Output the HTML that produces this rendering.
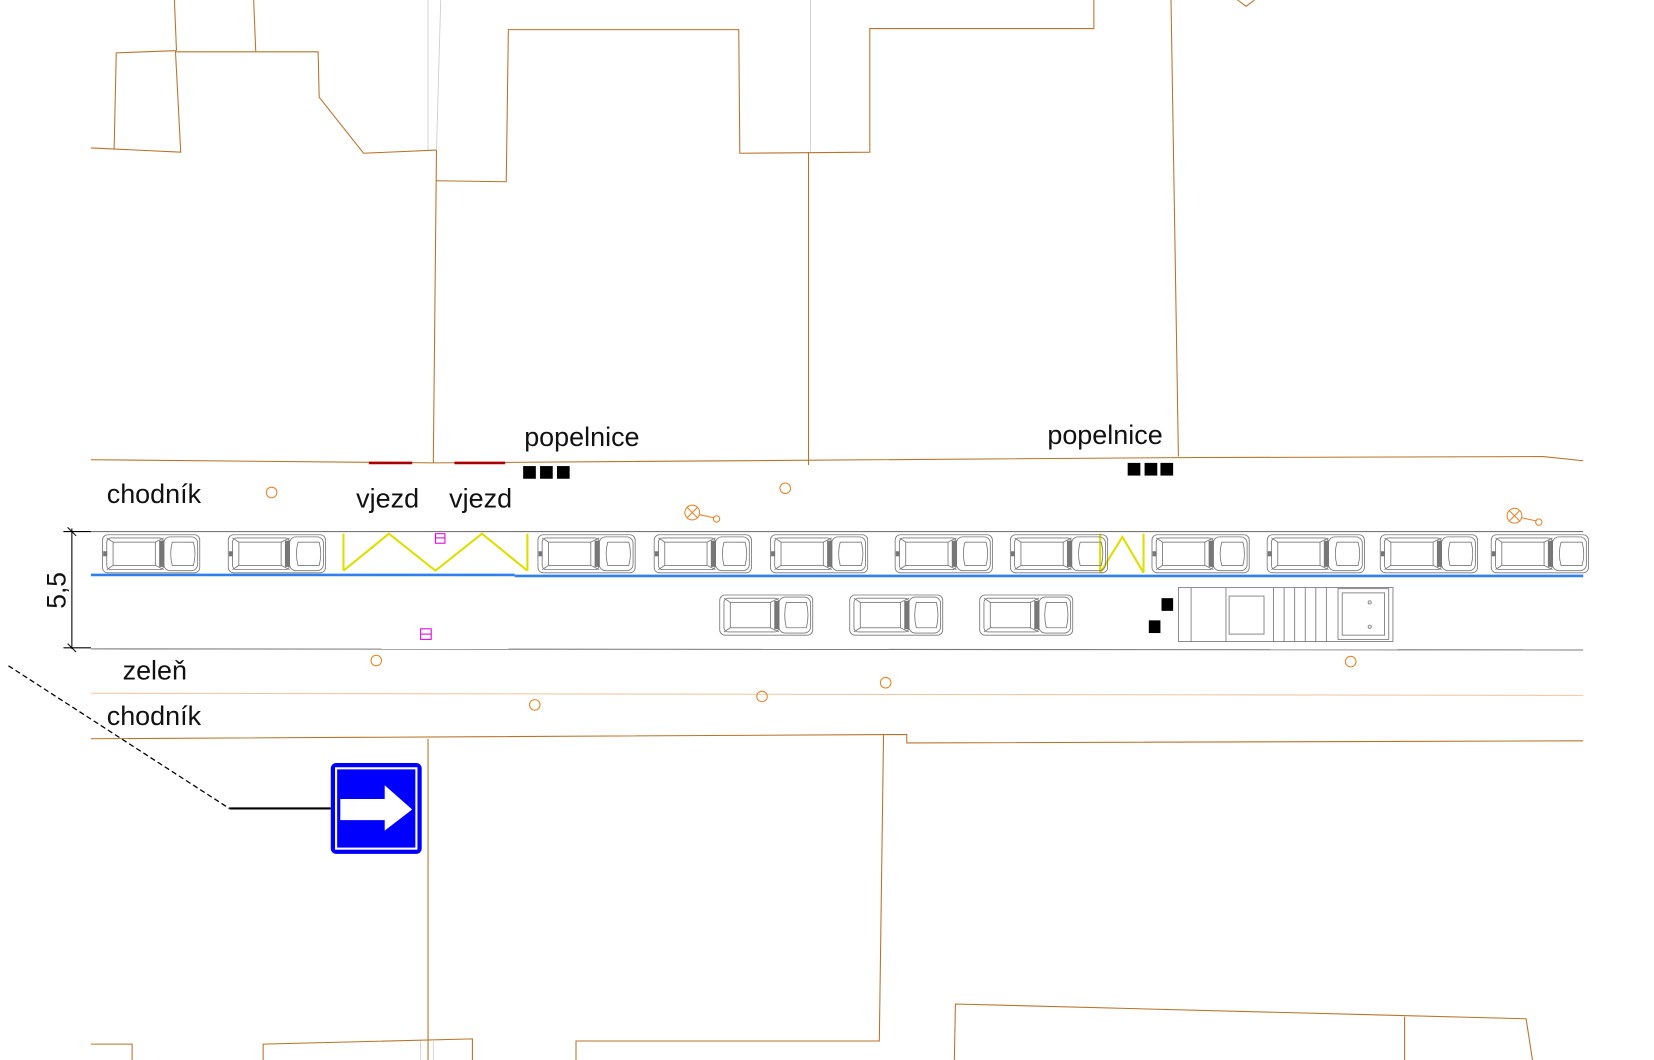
<!DOCTYPE html>
<html><head><meta charset="utf-8"><style>
html,body{margin:0;padding:0;background:#fff;width:1654px;height:1060px;overflow:hidden}
svg{display:block}
text{font-family:"Liberation Sans",sans-serif;fill:#111}
</style></head><body>
<svg width="1654" height="1060" viewBox="0 0 1565 1003" preserveAspectRatio="none" xmlns="http://www.w3.org/2000/svg">
<defs>
<g id="car" fill="none" stroke="#777" stroke-width="0.8">
<rect x="0" y="0" width="92" height="36" rx="5"/>
<rect x="4" y="3" width="54" height="30" rx="4"/>
<rect x="10" y="7" width="40" height="22"/>
<path d="M4 3 L10 7 M4 33 L10 29 M58 3 L50 7 M58 33 L50 29"/>
<rect x="58" y="2" width="32" height="32" rx="6"/>
<path d="M66 7 L86 7 Q89 18 86 29 L66 29 Q63 18 66 7"/>
<rect x="54" y="6" width="4" height="24" fill="#777"/>
<rect x="1" y="16" width="3" height="4" fill="#777"/>
</g>
<g id="car2" fill="none" stroke="#777" stroke-width="0.8">
<rect x="0" y="0" width="88" height="38" rx="5"/>
<rect x="4" y="3" width="52" height="32" rx="4"/>
<rect x="10" y="7" width="38" height="24"/>
<path d="M4 3 L10 7 M4 35 L10 31 M56 3 L48 7 M56 35 L48 31"/>
<rect x="56" y="2" width="30" height="34" rx="6"/>
<path d="M63 7 L82 7 Q85 19 82 31 L63 31 Q60 19 63 7"/>
<rect x="52" y="6" width="4" height="26" fill="#777"/>
</g>
</defs>
<g fill="none" stroke="#b8732a" stroke-width="1">
<polyline points="86,140 108,141 110,50 166,48 171,144 86,140"/>
<line x1="165" y1="0" x2="167" y2="48"/>
<line x1="240" y1="0" x2="242" y2="49"/>
<polyline points="166,49 301,49 302,92 344,145 413,142"/>
<line x1="413" y1="142" x2="410" y2="438"/>
<polyline points="413,171 479,172 481,28 699,28 700,145 823,144 823,27 1035,27 1035,0"/>
<line x1="765" y1="144" x2="765" y2="440"/>
<line x1="1108" y1="0" x2="1115" y2="432"/>
<polyline points="1171,0 1179,6 1187,0"/>
<polyline points="86,435 410,438 1115,433 1460,432 1498,436"/>
<polyline points="86,699 858,695 858,703 1498,701"/>
<line x1="405" y1="699" x2="405" y2="1003"/>
<polyline points="836,695 832,985 545,985 545,1003"/>
<polyline points="86,988 125,988 125,1003"/>
<polyline points="249,1003 249,988 447,983 447,1003"/>
<polyline points="903,1003 904,950 1444,964 1450,1003"/>
<line x1="1329" y1="962" x2="1329" y2="1003"/>
</g>
<g stroke="#ccc" stroke-width="0.8">
<line x1="405" y1="0" x2="405" y2="142"/>
<line x1="417" y1="0" x2="413" y2="142"/>
<line x1="767" y1="0" x2="767" y2="144"/>
<line x1="398" y1="985" x2="398" y2="1003"/>
<line x1="410" y1="985" x2="410" y2="1003"/>
</g>
<line x1="86" y1="656" x2="1498" y2="658" stroke="#edc7a6" stroke-width="1"/>
<line x1="86" y1="503" x2="1498" y2="503" stroke="#777" stroke-width="1"/>
<line x1="86" y1="614" x2="1498" y2="615" stroke="#777" stroke-width="1"/>
<line x1="86" y1="544" x2="487" y2="544" stroke="#2f80ed" stroke-width="2.5"/>
<line x1="487" y1="545" x2="1498" y2="545" stroke="#2f80ed" stroke-width="2.5"/>
<g fill="none" stroke="#dede00" stroke-width="2">
<line x1="325" y1="505" x2="325" y2="540"/>
<polyline points="325,540 368,505 412,540 456,505 499,540"/>
<line x1="499" y1="505" x2="499" y2="540"/>
<line x1="1041" y1="505" x2="1041" y2="542"/>
<polyline points="1041,542 1062,508 1082,542"/>
<line x1="1082" y1="505" x2="1082" y2="542"/>
</g>
<g stroke="#a00" stroke-width="2.5">
<line x1="349" y1="438" x2="390" y2="438"/>
<line x1="430" y1="438" x2="478" y2="438"/>
</g>
<g fill="#000">
<rect x="495" y="441" width="12" height="12"/><rect x="511" y="441" width="12" height="12"/><rect x="527" y="441" width="12" height="12"/>
<rect x="1067" y="438" width="12" height="12"/><rect x="1083" y="438" width="12" height="12"/><rect x="1098" y="438" width="12" height="12"/>
<rect x="1099" y="566" width="11" height="12"/><rect x="1087" y="587" width="11" height="12"/>
</g>
<use href="#car" x="97" y="506"/><use href="#car" x="216" y="506"/>
<use href="#car" x="509" y="506"/><use href="#car" x="619" y="506"/>
<use href="#car" x="729" y="506"/><use href="#car" x="847" y="506"/>
<use href="#car" x="956" y="506"/><use href="#car" x="1090" y="506"/>
<use href="#car" x="1199" y="506"/><use href="#car" x="1306" y="506"/>
<use href="#car" x="1411" y="506"/>
<use href="#car2" x="681" y="563"/><use href="#car2" x="804" y="563"/><use href="#car2" x="927" y="563"/>
<g fill="none" stroke="#777" stroke-width="0.8">
<rect x="1115" y="556" width="203" height="51"/>
<line x1="1127" y1="556" x2="1127" y2="607"/>
<line x1="1160" y1="556" x2="1160" y2="607"/>
<rect x="1163" y="564" width="33" height="36"/>
<line x1="1205" y1="556" x2="1205" y2="607"/><line x1="1215" y1="556" x2="1215" y2="607"/>
<line x1="1225" y1="556" x2="1225" y2="607"/><line x1="1235" y1="556" x2="1235" y2="607"/>
<line x1="1245" y1="556" x2="1245" y2="607"/><line x1="1255" y1="556" x2="1255" y2="607"/>
<rect x="1266" y="557" width="48" height="48"/>
<rect x="1270" y="561" width="40" height="40"/>
<circle cx="1296" cy="570" r="1.5"/><circle cx="1296" cy="593" r="1.5"/>
</g>
<g fill="none" stroke="#e8852a" stroke-width="1">
<circle cx="257" cy="466" r="5"/><circle cx="743" cy="462" r="5"/>
<circle cx="356" cy="625" r="5"/><circle cx="506" cy="667" r="5"/>
<circle cx="721" cy="659" r="5"/><circle cx="838" cy="646" r="5"/>
<circle cx="1278" cy="626" r="5"/>
<circle cx="655" cy="485" r="7"/><path d="M650 480 L660 490 M660 480 L650 490 M662 487 L676 490"/><circle cx="678" cy="491" r="3"/>
<circle cx="1433" cy="488" r="7"/><path d="M1428 483 L1438 493 M1438 483 L1428 493 M1440 490 L1454 493"/><circle cx="1456" cy="494" r="3"/>
</g>
<g fill="none" stroke="#e000e0" stroke-width="1">
<rect x="412" y="505" width="9" height="9"/><line x1="412" y1="509" x2="421" y2="509"/>
<rect x="398" y="595" width="10" height="10"/><line x1="398" y1="600" x2="408" y2="600"/>
</g>
<g stroke="#000" stroke-width="1">
<line x1="68" y1="500" x2="68" y2="614"/>
<line x1="60" y1="503" x2="86" y2="503"/><line x1="60" y1="613" x2="86" y2="613"/>
<line x1="64" y1="499" x2="72" y2="507"/><line x1="64" y1="609" x2="72" y2="617"/>
</g>
<text transform="translate(62,576) rotate(-90)" font-size="25">5,5</text>
<line x1="8" y1="630" x2="217" y2="765" stroke="#000" stroke-width="1.2" stroke-dasharray="5,3"/>
<line x1="217" y1="765" x2="313" y2="765" stroke="#000" stroke-width="2"/>
<rect x="313" y="722" width="86" height="86" rx="5" fill="#0000ff"/>
<rect x="318" y="727" width="76" height="76" fill="none" stroke="#fff" stroke-width="2"/>
<path d="M322 756 L364 756 L364 743 L390 766 L364 786 L364 776 L322 776 Z" fill="#fff"/>
<g font-size="25.5">
<text x="101" y="476">chodník</text>
<text x="337" y="480">vjezd</text>
<text x="425" y="480">vjezd</text>
<text x="496" y="422">popelnice</text>
<text x="991" y="420">popelnice</text>
<text x="116" y="643">zeleň</text>
<text x="101" y="686">chodník</text>
</g>
</svg>
</body></html>
